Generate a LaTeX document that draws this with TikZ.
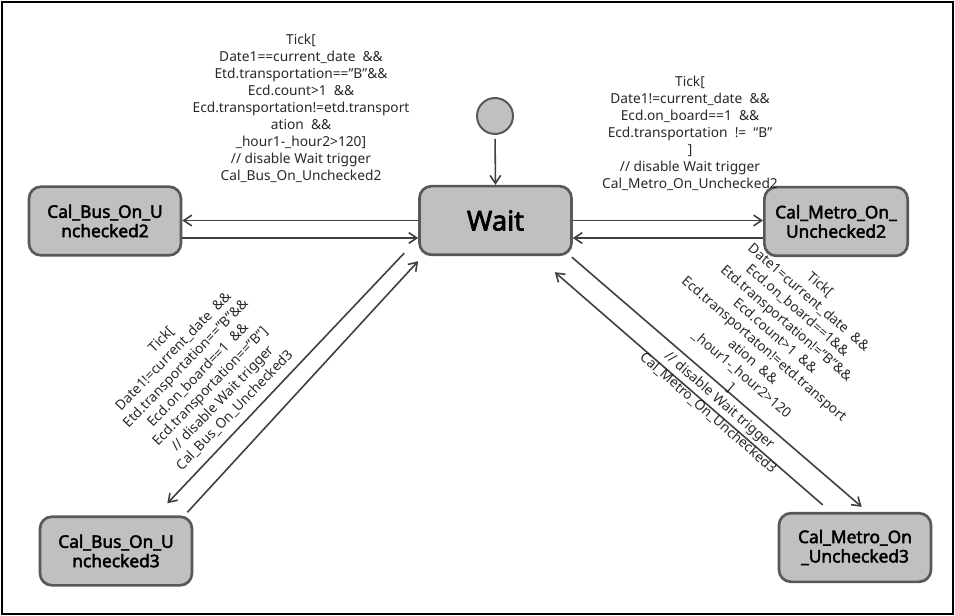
\documentclass[tikz,border=0pt]{standalone}
\usepackage{fontspec}
\setmainfont{Noto Sans}[AutoFakeBold=2.5]
\usetikzlibrary{arrows.meta,calc}

\definecolor{stategray}{RGB}{88,88,88}
\definecolor{statefill}{RGB}{192,192,192}
\definecolor{linegray}{RGB}{64,64,64}
\definecolor{textgray}{RGB}{40,40,40}

\tikzset{
  state/.style={draw=stategray, fill=statefill, line width=2pt, rounded corners=9pt,
    minimum width=114pt, minimum height=51.5pt, align=center, inner sep=2pt,
    font=\bfseries\fontsize{13}{14.5}\selectfont},
  initial/.style={circle, draw=stategray, fill=statefill, line width=1.5pt, minimum size=27pt, inner sep=0pt},
  trans/.style={draw=linegray, line width=1.2pt, -{Straight Barb[length=6pt,width=8pt]}},
  guard/.style={align=center, inner sep=0pt, text=textgray, font=\fontsize{10.3}{12.75}\selectfont},
}

\begin{document}
\begin{tikzpicture}[x=0.75pt,y=0.75pt,yscale=-1,xscale=1]
            \useasboundingbox (0,0) rectangle (955,616);
            \draw [line width=1pt] (2,2) rectangle (953,614);

            % states
            \node [initial] (init) at (495,116) {};
            \node [state, font=\bfseries\fontsize{20.5}{22}\selectfont] (wait) at (495.5,220.5) {Wait};
            \node [state] (bus2) at (105,221) {Cal\_Bus\_On\_U\\nchecked2};
            \node [state, minimum width=107.5pt] (metro2) at (836,221.5) {Cal\_Metro\_On\_\\Unchecked2};
            \node [state] (bus3) at (116,551) {Cal\_Bus\_On\_U\\nchecked3};
            \node [state] (metro3) at (855,547.5) {Cal\_Metro\_On\\\_Unchecked3};

            % transitions
            \draw [trans, shorten <=3pt] (init.south) -- (wait.north);
            \draw [trans] (wait.west) -- (wait.west -| bus2.east);
            \draw [trans] ($(bus2.east)+(0,17)$) -- ($(wait.west)+(0,17.5)$);
            \draw [trans] (wait.east) -- (wait.east -| metro2.west);
            \draw [trans] ($(metro2.west)+(0,16.5)$) -- ($(wait.east)+(0,17.5)$);
            \draw [trans] ($(wait.south west)+(-14,-3)$) -- ($(bus3.north east)+(-26,-12)$);
            \draw [trans] ($(bus3.north east)+(-6,-3)$) -- ($(wait.south west)+(0,5)$);
            \draw [trans] ($(wait.south east)+(-1,1)$) -- ($(metro3.north west)+(84,-5)$);
            \draw [trans] ($(metro3.north west)+(45,-7)$) -- ($(wait.south east)+(-18,16)$);

            % guards
            \node [guard] (gBus2) at (301,108) {Tick[\\Date1==current\_date \ \&\&\\Etd.transportation==”B”\&\&\\Ecd.count>1 \ \&\&\\Ecd.transportation!=etd.transport\\ation \ \&\&\\\_hour1-\_hour2>120]\\// disable Wait trigger\\Cal\_Bus\_On\_Unchecked2};
            \node [guard] (gMetro2) at (690,133) {Tick[\\Date1!=current\_date \ \&\&\\Ecd.on\_board==1 \ \&\&\\Ecd.transportation \ != \ “B”\\]\\// disable Wait trigger\\Cal\_Metro\_On\_Unchecked2};
            \node [guard, rotate=46] (gBus3) at (198,375) {Tick[\\Date1!=current\_date \ \&\&\\Etd.transportation==”B”\&\&\\Ecd.on\_board==1 \ \&\&\\Ecd.transportation==”B”]\\// disable Wait trigger\\Cal\_Bus\_On\_Unchecked3};
            \node [guard, rotate=-41] (gMetro3) at (764,349) {Tick[\\Date1=current\_date \ \&\&\\Ecd.on\_board==1\&\&\\Etd.transportation!=”B”\&\&\\Ecd.count>1 \ \&\&\\Ecd.transportaton!=etd.transport\\ation \ \&\&\\\_hour1-\_hour2>120\\]\\// disable Wait trigger\\Cal\_Metro\_On\_Unchecked3};
        \end{tikzpicture}
\end{document}
